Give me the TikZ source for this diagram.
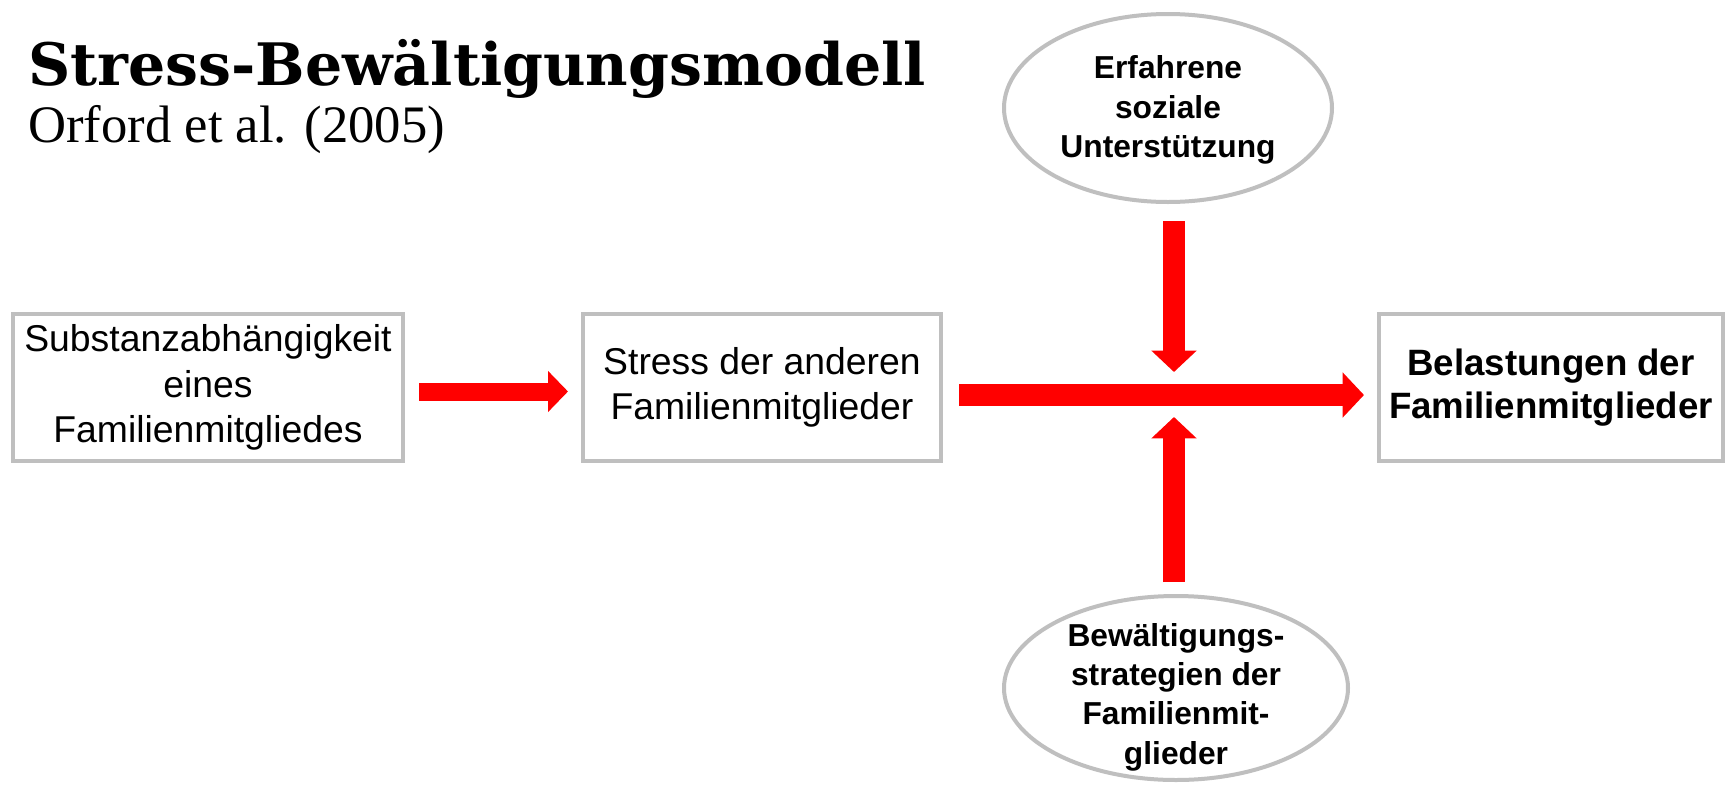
\documentclass[tikz,border=0pt]{standalone}
\usepackage{fontspec}
\setmainfont{Liberation Serif}
\newfontfamily\arialfont{Liberation Sans}
\newfontfamily\titlefont{DejaVu Serif}
\usetikzlibrary{arrows.meta,shapes.geometric,calc}
\definecolor{bordergray}{HTML}{BFBFBF}
\definecolor{arrowred}{HTML}{FF0000}
\tikzset{
  titletext/.style={anchor=base west, inner sep=0pt, font=\titlefont\bfseries\fontsize{43.9}{46}\selectfont},
  subtitletext/.style={anchor=base west, inner sep=0pt, font=\fontsize{39.5}{42}\selectfont},
  box/.style={draw=bordergray, line width=3pt, outer sep=1.5pt, inner sep=0pt,
    minimum height=110.25pt, align=center, fill=white,
    font=\arialfont\fontsize{28}{34}\selectfont},
  boldbox/.style={box, font=\arialfont\bfseries\fontsize{27.5}{32}\selectfont},
  ell/.style={ellipse, draw=bordergray, line width=3pt, outer sep=1.5pt, inner sep=0pt, fill=white},
  elltext/.style={align=center, inner sep=0pt, font=\arialfont\bfseries\fontsize{23.8}{29.5}\selectfont},
  arrsmall/.style={draw=arrowred, line width=13.5pt, -{Triangle[width=30pt,length=15pt]}},
  arrbig/.style={draw=arrowred, line width=16pt, -{Triangle[width=33pt,length=16pt]}}
}
\begin{document}
\begin{tikzpicture}[x=0.75pt,y=-0.75pt]
\useasboundingbox (0,0) rectangle (1729,786);
\node[titletext] (title) at (28,85) {Stress-Bewältigungsmodell};
\node[subtitletext] (subtitle) at (28,142) {Orford et al. (2005)};
\node[box, minimum width=292.5pt] (b1) at (208,387.5) {Substanzabhängigkeit\\eines\\Familienmitgliedes};
\node[box, minimum width=268.5pt] (b2) at (762,387.5) {Stress der anderen\\Familienmitglieder};
\node[boldbox, minimum width=258pt] (b3) at (1551,387.5) {Belastungen der\\Familienmitglieder};
\node[ell, minimum width=246pt, minimum height=141pt] (e1) at (1168,108) {};
\node[elltext] (e1t) at (1168,110) {Erfahrene\\soziale\\Unterstützung};
\node[ell, minimum width=258pt, minimum height=138pt] (e2) at (1176,688) {};
\node[elltext] (e2t) at (1176,697) {Bewältigungs-\\strategien der\\Familienmit-\\glieder};
\coordinate (hub) at (1174,395);
\draw[arrsmall] ($(b1.east)+(14,4)$) -- ($(b2.west)+(-13,4)$);
\draw[arrbig] ($(b2.east)+(16,7.5)$) -- ($(b3.west)+(-13,7.5)$);
\draw[arrbig] ($(e1.south -| hub)+(0,17)$) -- ($(hub)+(0,-23)$);
\draw[arrbig] ($(e2.north -| hub)+(0,-12)$) -- ($(hub)+(0,22)$);
\end{tikzpicture}
\end{document}
